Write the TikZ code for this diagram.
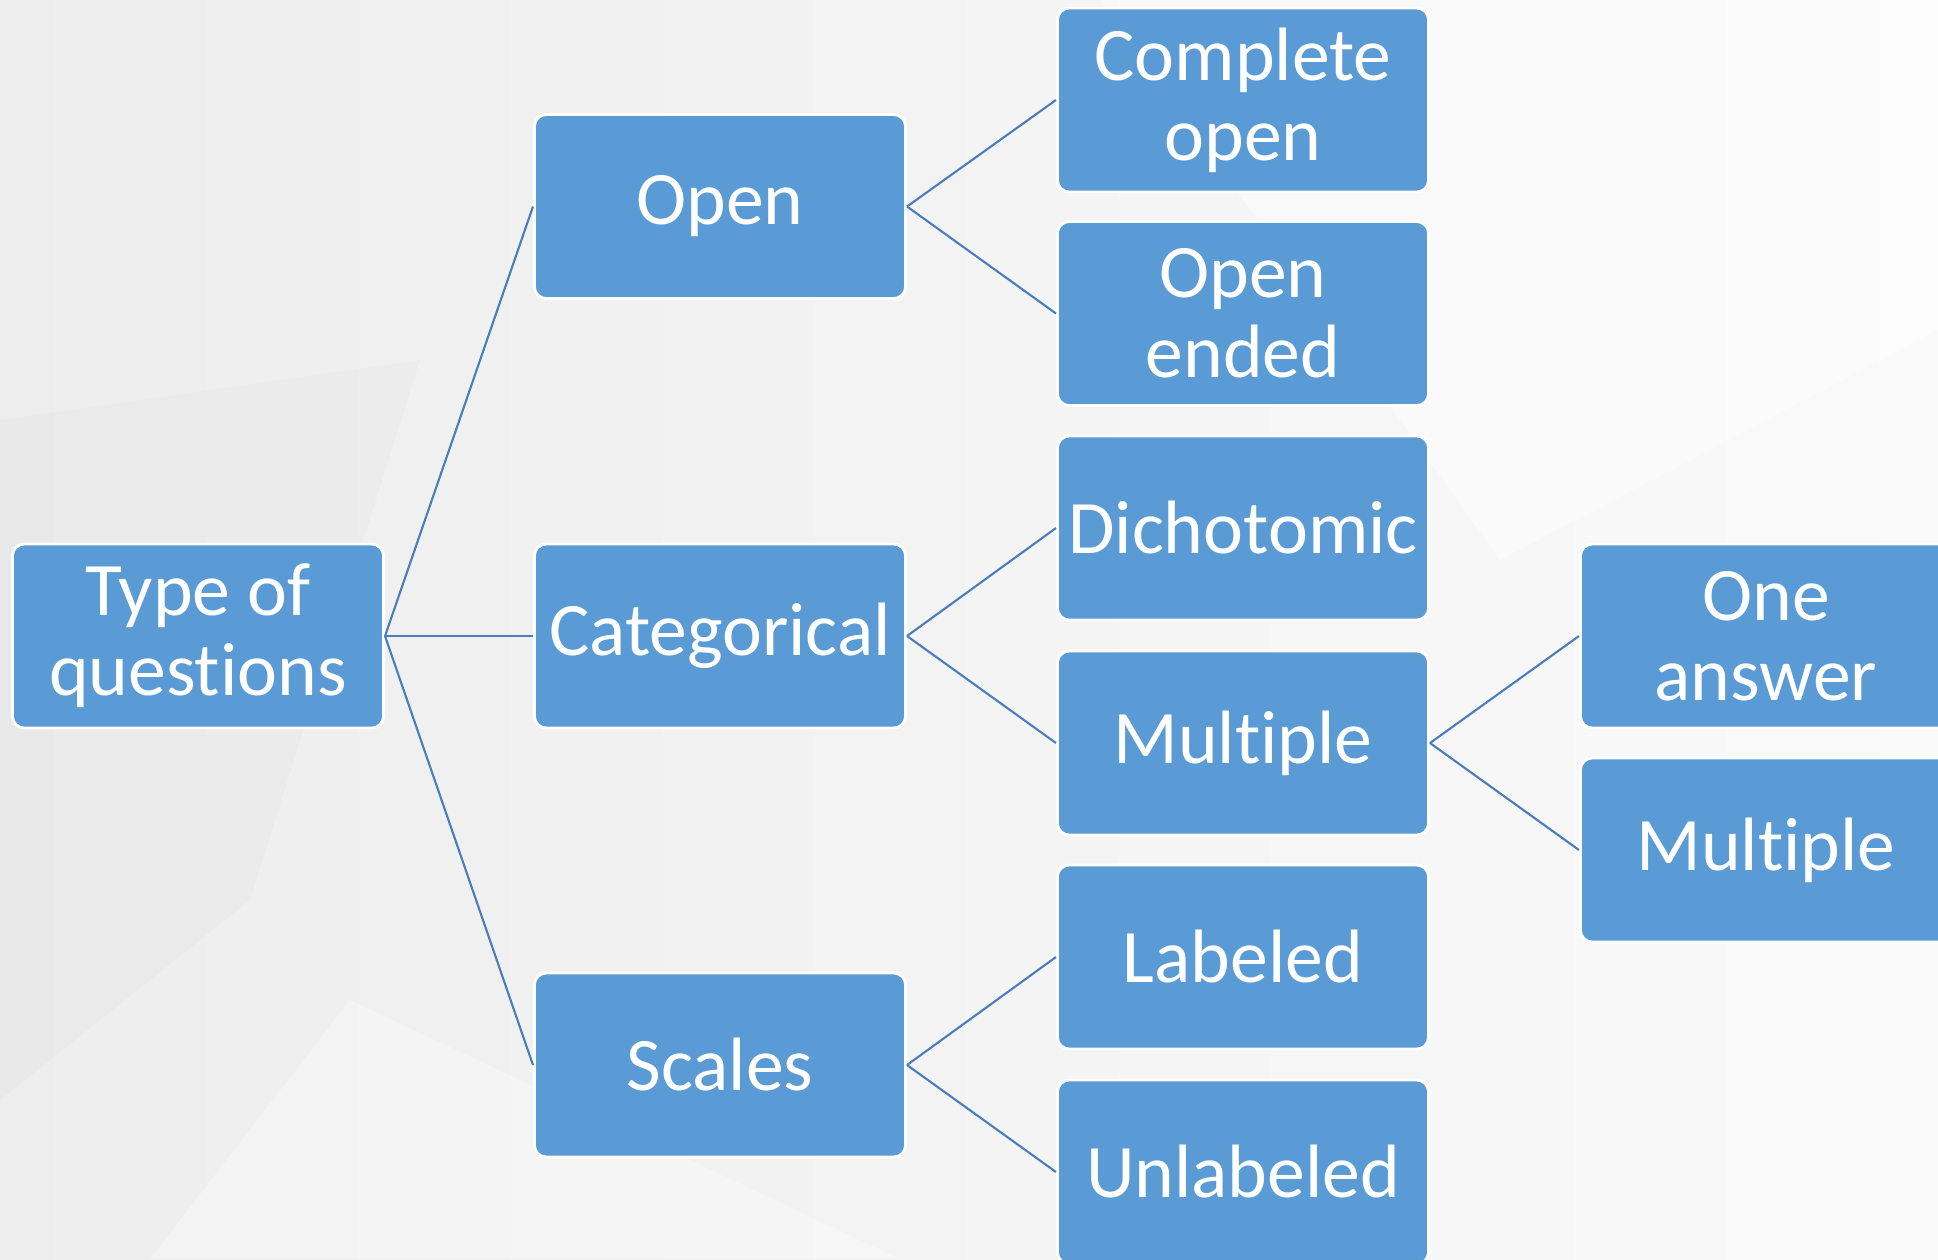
\documentclass[tikz,border=0pt]{standalone}
\usepackage{fontspec}
\setmainfont{Carlito}[Ligatures={NoCommon,NoContextual}]
\usepackage{tikz}
\definecolor{boxblue}{HTML}{5B9BD5}
\definecolor{linkblue}{HTML}{4A7EBB}
\tikzset{
  box/.style={rectangle,rounded corners=0.12cm,fill=boxblue,draw=white,line width=0.8pt,
    text=white,align=center,minimum width=3.71cm,minimum height=1.84cm,inner sep=0pt,
    font=\fontsize{21.5}{22.8}\selectfont},
  link/.style={linkblue,line width=0.6pt}
}
% no "ti" ligature
\newcommand{\nolig}{\kern0pt}
\begin{document}
\begin{tikzpicture}[x=0.01cm,y=-0.01cm]
\clip (0,0) rectangle (1938,1259);
% background
\shade[left color=black!7,right color=black!2] (0,0) rectangle (1938,1259);
\fill[white,opacity=0.4] (1100,0) -- (1938,0) -- (1938,330) -- (1500,560) -- cycle;
\fill[black,opacity=0.015] (0,420) -- (420,360) -- (250,900) -- (0,1100) -- cycle;
\fill[white,opacity=0.3] (350,1000) -- (900,1259) -- (150,1259) -- cycle;
% level 0 and 1
\node[box] (toq) at (198,636) {Type of\\quest\nolig ions};
\node[box] (open) at (720,206.5) {Open};
\node[box] (categ) at (720,636) {Categorical};
\node[box] (scales) at (720,1065) {Scales};
% level 2
\node[box] (compl) at (1243,100) {Complete\\open};
\node[box] (opend) at (1243,313.5) {Open\\ended};
\node[box] (dich) at (1243,528) {Dichotomic};
\node[box] (mult) at (1243,743) {Mult\nolig iple};
\node[box] (lab) at (1243,957) {Labeled};
\node[box] (unlab) at (1243,1172) {Unlabeled};
% level 3
\node[box] (one) at (1766,636) {One\\answer};
\node[box] (multi) at (1766,850) {Mult\nolig iple};
% connectors
\draw[link] (toq.east) -- (open.west);
\draw[link] (toq.east) -- (categ.west);
\draw[link] (toq.east) -- (scales.west);
\draw[link] (open.east) -- (compl.west);
\draw[link] (open.east) -- (opend.west);
\draw[link] (categ.east) -- (dich.west);
\draw[link] (categ.east) -- (mult.west);
\draw[link] (scales.east) -- (lab.west);
\draw[link] (scales.east) -- (unlab.west);
\draw[link] (mult.east) -- (one.west);
\draw[link] (mult.east) -- (multi.west);
\end{tikzpicture}
\end{document}
